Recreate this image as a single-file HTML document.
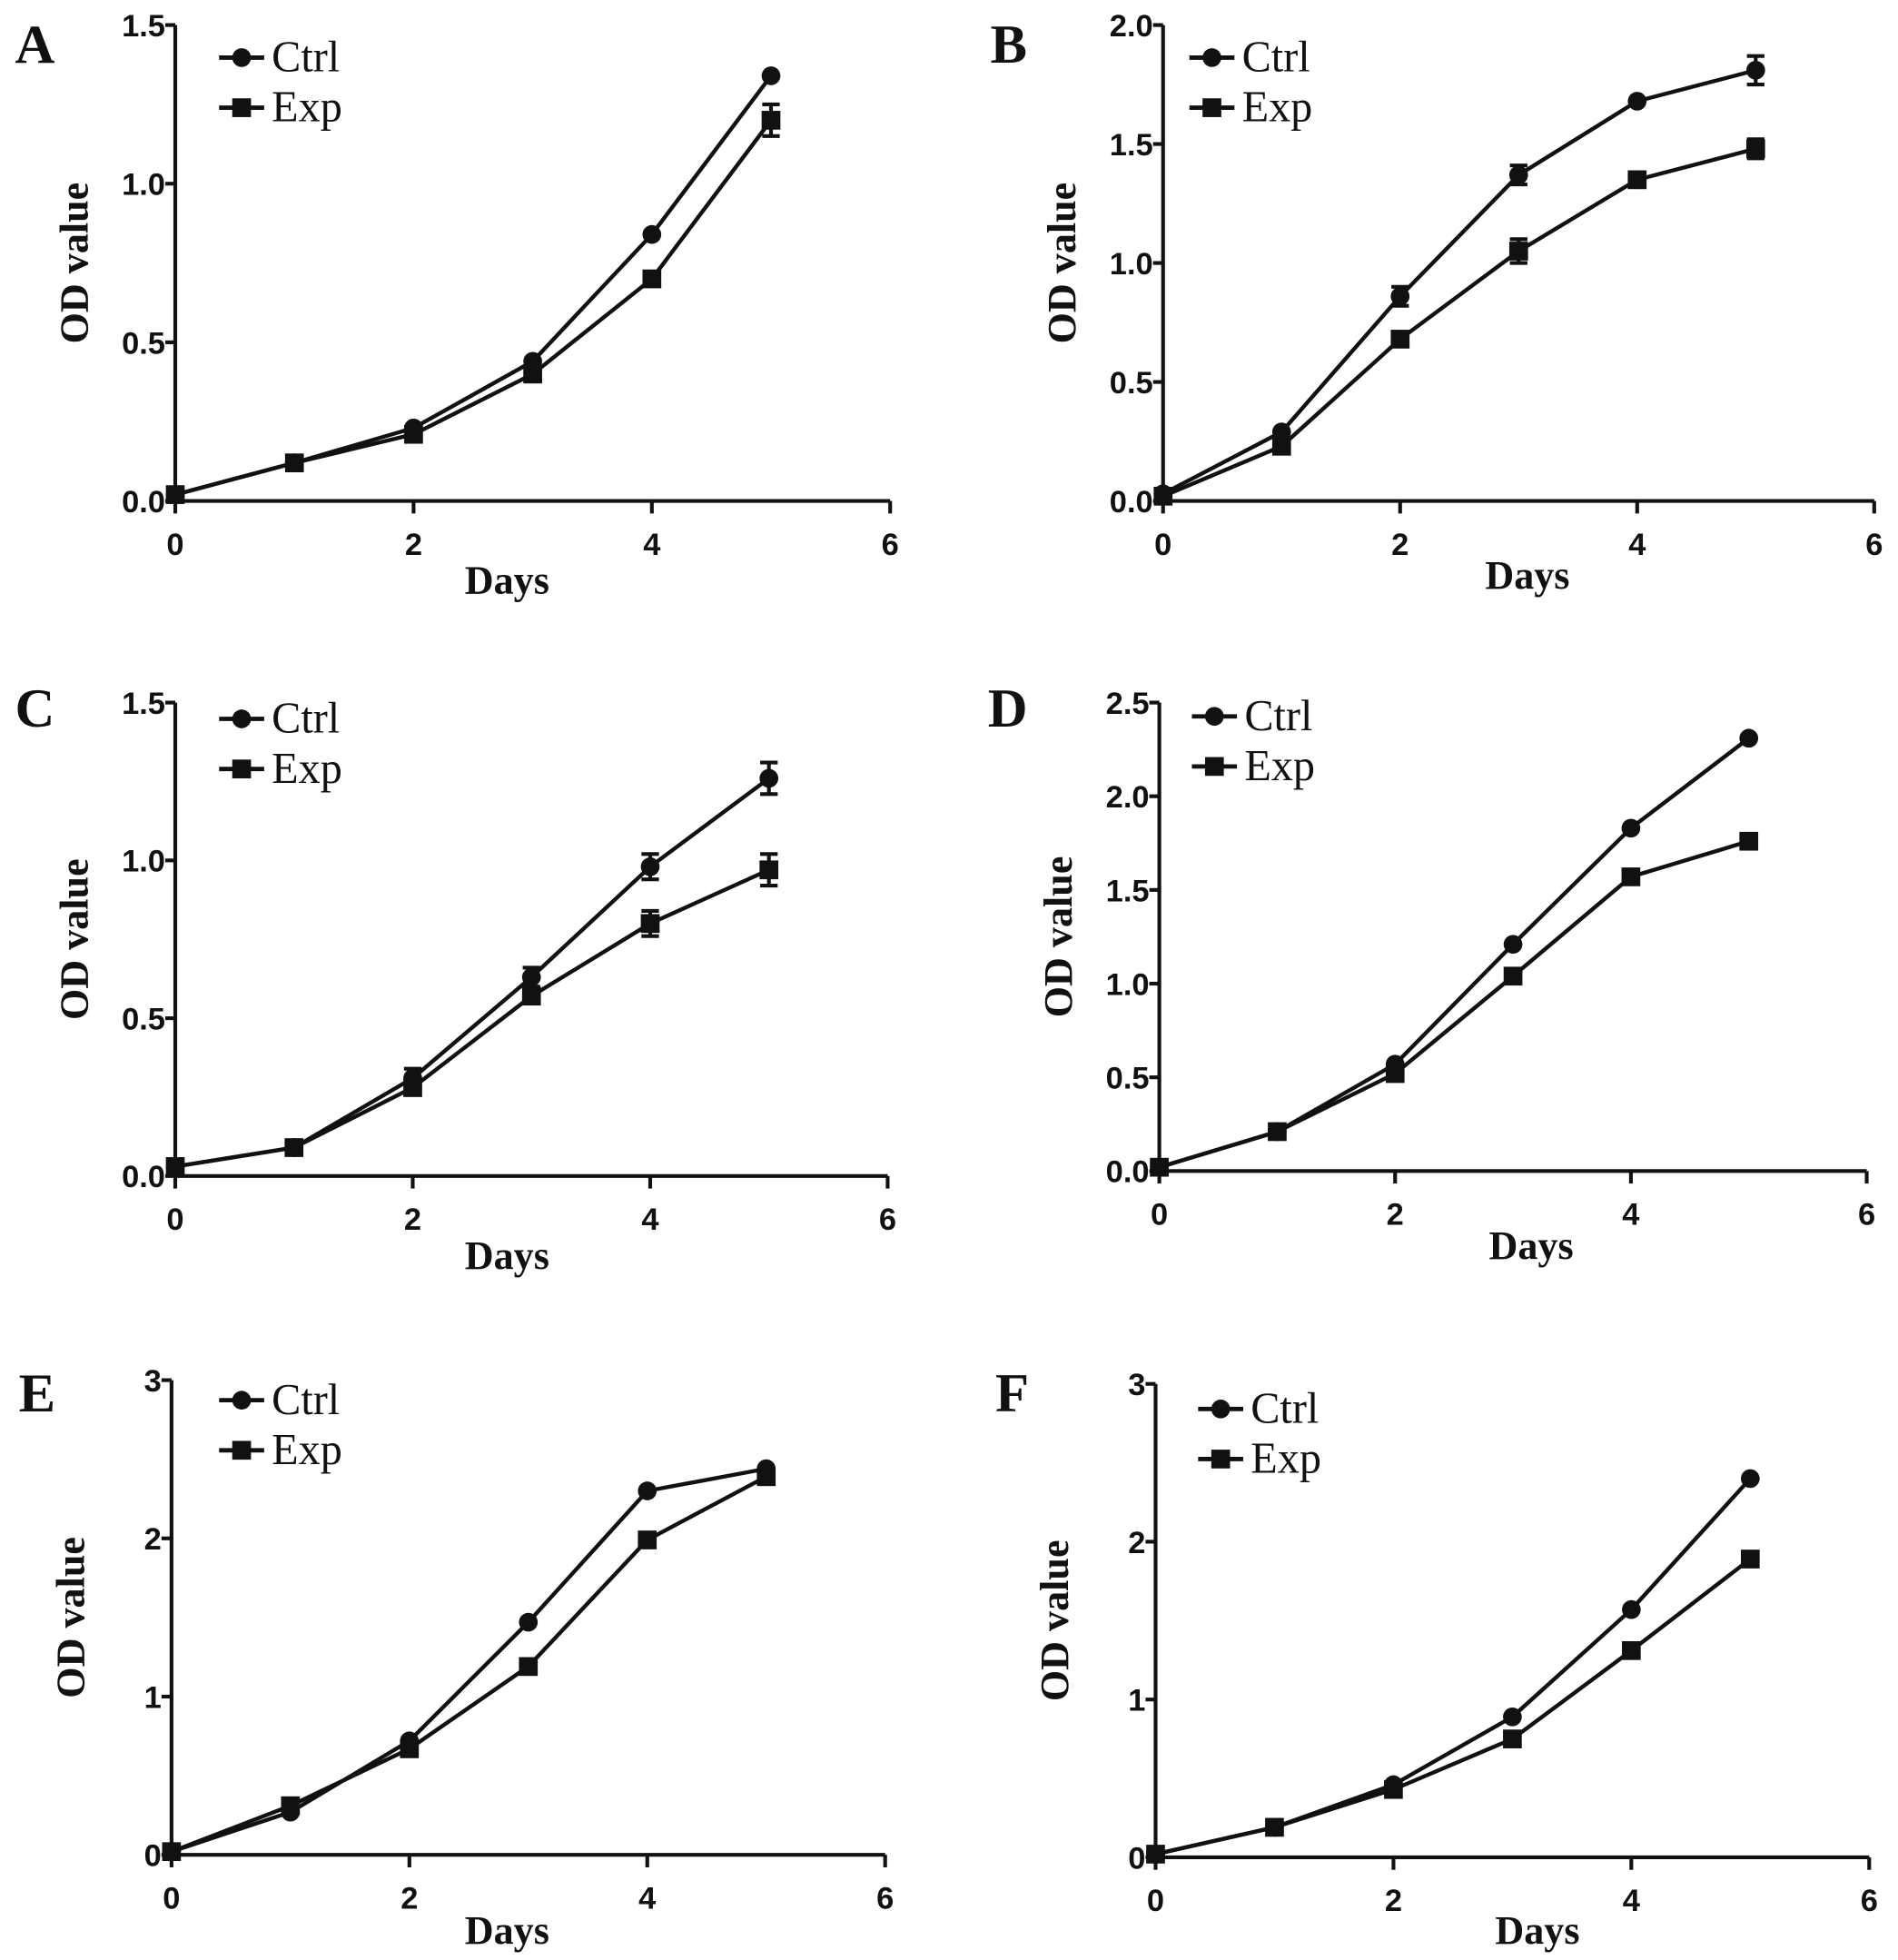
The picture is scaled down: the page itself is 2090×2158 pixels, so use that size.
<!DOCTYPE html>
<html><head><meta charset="utf-8">
<style>
html,body{margin:0;padding:0;background:#fff;}
svg{display:block;}
.tick{font-family:"Liberation Sans",sans-serif;font-weight:bold;font-size:25px;fill:#111;}
.leg{font-family:"Liberation Serif",serif;font-size:35px;fill:#111;}
.ttl{font-family:"Liberation Serif",serif;font-weight:bold;font-size:32px;fill:#111;}
.pl{font-family:"Liberation Serif",serif;font-weight:bold;font-size:44px;fill:#111;}
</style></head>
<body>
<svg id="fig" width="2090" height="2158" viewBox="0 0 1516 1565" preserveAspectRatio="none" xmlns="http://www.w3.org/2000/svg"></svg>
<script>
const days=[0,1,2,3,4,5];
const xTicks=[0,2,4,6];
const panelLabels=["A","B","C","D","E","F"];
const ctrlA=[0.02,0.12,0.23,0.44,0.84,1.34], expA=[0.02,0.12,0.21,0.40,0.70,1.20];
const ctrlErrA=[0,0,0,0,0,0], expErrA=[0,0,0,0,0,0.05];
const ctrlB=[0.03,0.29,0.86,1.37,1.68,1.81], expB=[0.02,0.23,0.68,1.05,1.35,1.48];
const ctrlErrB=[0,0,0.04,0.04,0,0.06], expErrB=[0,0,0,0.05,0,0.04];
const ctrlC=[0.03,0.09,0.31,0.63,0.98,1.26], expC=[0.03,0.09,0.28,0.57,0.80,0.97];
const ctrlErrC=[0,0,0.03,0.03,0.04,0.05], expErrC=[0,0,0,0,0.04,0.05];
const ctrlD=[0.02,0.21,0.57,1.21,1.83,2.31], expD=[0.02,0.21,0.52,1.04,1.57,1.76];
const ctrlE=[0.02,0.27,0.72,1.47,2.30,2.44], expE=[0.02,0.31,0.67,1.19,1.99,2.39];
const ctrlF=[0.02,0.19,0.46,0.89,1.57,2.40], expF=[0.02,0.19,0.43,0.75,1.31,1.89];
const yTicksA=["0.0","0.5","1.0","1.5"], yTicksB=["0.0","0.5","1.0","1.5","2.0"];
const yTicksD=["0.0","0.5","1.0","1.5","2.0","2.5"], yTicksE=["0","1","2","3"];
const zeros=[0,0,0,0,0,0];

const NS="http://www.w3.org/2000/svg";
const svg=document.getElementById('fig');
function mk(tag,attrs,parent){const e=document.createElementNS(NS,tag);for(const k in attrs)e.setAttribute(k,attrs[k]);(parent||svg).appendChild(e);return e;}

const panels=[
 {lab:"A",x0:140,x1:711,y0:400,y1:20,yt:yTicksA,ymax:1.5,c:ctrlA,e:expA,ce:ctrlErrA,ee:expErrA,lx:12,ly:50,legx:175,legy:46,days:[405,474]},
 {lab:"B",x0:929,x1:1497,y0:400,y1:20,yt:yTicksB,ymax:2.0,c:ctrlB,e:expB,ce:ctrlErrB,ee:expErrB,lx:791,ly:50,legx:950,legy:46,days:[1220,470]},
 {lab:"C",x0:140,x1:709,y0:939,y1:561,yt:yTicksA,ymax:1.5,c:ctrlC,e:expC,ce:ctrlErrC,ee:expErrC,lx:12,ly:580,legx:175,legy:574,days:[405,1013]},
 {lab:"D",x0:926,x1:1491,y0:935,y1:561,yt:yTicksD,ymax:2.5,c:ctrlD,e:expD,ce:zeros,ee:zeros,lx:789,ly:580,legx:952,legy:572,days:[1223,1005]},
 {lab:"E",x0:137,x1:707,y0:1481,y1:1102,yt:yTicksE,ymax:3,c:ctrlE,e:expE,ce:zeros,ee:zeros,lx:15,ly:1127,legx:175,legy:1118,days:[405,1552]},
 {lab:"F",x0:923,x1:1493,y0:1483,y1:1105,yt:yTicksE,ymax:3,c:ctrlF,e:expF,ce:zeros,ee:zeros,lx:795,ly:1127,legx:957,legy:1125,days:[1228,1552]}
];

panels.forEach(p=>{
 const g=mk('g',{});
 
 
 const X=d=>p.x0+(p.x1-p.x0)*d/6;
 const Y=v=>p.y0-(p.y0-p.y1)*v/p.ymax;
 const t=mk('text',{x:p.lx,y:p.ly,class:'pl'},g);t.textContent=p.lab;
 
 const ax=mk('path',{d:`M${p.x0} ${p.y1}V${p.y0}H${p.x1}`,stroke:'#111','stroke-width':3,fill:'none'},g);
 
 p.yt.forEach((lbl,i)=>{
  const v=p.ymax*i/(p.yt.length-1);const y=Y(v);
  mk('line',{x1:p.x0-8,x2:p.x0,y1:y,y2:y,stroke:'#111','stroke-width':3},g);
  const tt=mk('text',{x:p.x0-8,y:y+9,class:'tick','text-anchor':'end'},g);tt.textContent=lbl;
  
 });
 xTicks.forEach(d=>{
  const x=X(d);
  mk('line',{x1:x,x2:x,y1:p.y0,y2:p.y0+10,stroke:'#111','stroke-width':3},g);
  const tt=mk('text',{x:x,y:p.y0+43,class:'tick','text-anchor':'middle'},g);tt.textContent=d;
  
 });
 const dt=mk('text',{x:p.days[0],y:p.days[1],class:'ttl','text-anchor':'middle'},g);dt.textContent='Days';
 
 const ym=(p.y0+p.y1)/2, yx=p.x0-70;
 const yt=mk('text',{x:yx,y:ym,class:'ttl','text-anchor':'middle',transform:`rotate(-90 ${yx} ${ym})`},g);yt.textContent='OD value';
 
 [[p.e,p.ee,'exp','sq'],[p.c,p.ce,'ctrl','ci']].forEach(([vals,errs,nm,sh])=>{
  const line=mk('polyline',{points:days.map((d,i)=>X(d)+','+Y(vals[i])).join(' '),fill:'none',stroke:'#111','stroke-width':3.2},g);
  
  days.forEach((d,i)=>{
   const x=X(d),y=Y(vals[i]);
   if(errs[i]>0){
    const ya=Y(vals[i]+errs[i]),yb=Y(vals[i]-errs[i]);
    const eb=mk('path',{d:`M${x} ${ya}V${yb}M${x-7} ${ya}H${x+7}M${x-7} ${yb}H${x+7}`,stroke:'#111','stroke-width':3,fill:'none'},g);
    
   }
   const m= sh==='ci'? mk('circle',{cx:x,cy:y,r:7.5,fill:'#111'},g) : mk('rect',{x:x-7.5,y:y-7.5,width:15,height:15,fill:'#111'},g);
   
  });
 });
 [['Ctrl','ci',0],['Exp','sq',40]].forEach(([lbl,sh,dy])=>{
  const lg=mk('g',{},g);
  
  const y=p.legy+dy;
  mk('line',{x1:p.legx,x2:p.legx+36,y1:y,y2:y,stroke:'#111','stroke-width':3.5},lg);
  const cx=p.legx+18;
  if(sh==='ci')mk('circle',{cx:cx,cy:y,r:7.5,fill:'#111'},lg);else mk('rect',{x:cx-7.5,y:y-7.5,width:15,height:15,fill:'#111'},lg);
  const tx=mk('text',{x:p.legx+42,y:y+11,class:'leg'},lg);tx.textContent=lbl;
 });
});
</script>
</body></html>
